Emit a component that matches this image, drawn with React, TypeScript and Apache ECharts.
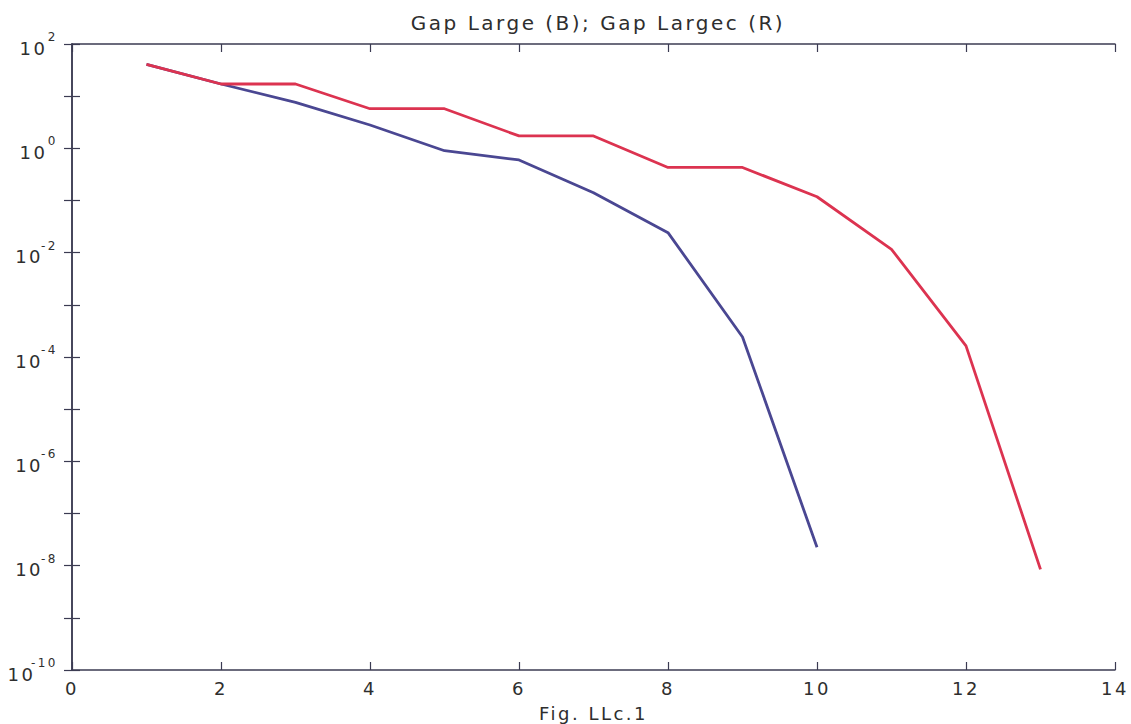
import React, { useEffect, useRef } from "react";
import * as echarts from "echarts";

// Gap index (x) and the two gap measures plotted on a log scale
const steps = [1, 2, 3, 4, 5, 6, 7, 8, 9, 10, 11, 12, 13];
const gapLarge = [40.8, 17.1, 7.6, 2.8, 0.9, 0.6, 0.141, 0.0242, 2.42e-4, 2.25e-8];
const gapLargec = [40.8, 17.1, 17.1, 5.75, 5.75, 1.73, 1.73, 0.43, 0.43, 0.118, 0.0116, 1.63e-4, 8.5e-9];

const xTicks = [0, 2, 4, 6, 8, 10, 12, 14];
const yMinExp = -10;
const yMaxExp = 2;

const axisColor = "#3b3b52";
const textColor = "#2e2e2e";
const font = "'DejaVu Sans', Verdana, sans-serif";

const pairs = (vals: number[]) => vals.map((v, i) => [steps[i], v]);

export default function App() {
  const ref = useRef<HTMLDivElement>(null);

  useEffect(() => {
    if (!ref.current) return;
    const chart = echarts.init(ref.current, null, { renderer: "svg" });

    const yLabel = (value: number) => {
      const e = Math.round(Math.log10(value));
      if (e % 2 !== 0) return "";
      return `{b|10}{e|${e}}`;
    };

    const xBase = {
      type: "value",
      min: xTicks[0],
      max: xTicks[xTicks.length - 1],
      interval: 2,
      splitLine: { show: false },
      axisLine: { show: true, onZero: false, lineStyle: { color: axisColor, width: 1.5 } },
      axisTick: { show: true, inside: true, length: 8, lineStyle: { color: axisColor, width: 1.2 } },
    };

    const yBase = {
      type: "log",
      logBase: 10,
      min: Math.pow(10, yMinExp),
      max: Math.pow(10, yMaxExp),
      interval: 1,
      splitLine: { show: false },
      axisLine: { show: true, lineStyle: { color: axisColor, width: 1.5 } },
      axisTick: { show: true, inside: true, length: 8, lineStyle: { color: axisColor, width: 1.2 } },
    };

    chart.setOption({
      animation: false,
      backgroundColor: "#ffffff",
      title: {
        text: "Gap Large (B); Gap Largec (R)",
        left: 593,
        textAlign: "center",
        top: 8,
        textStyle: { fontFamily: font, fontSize: 20, fontWeight: "normal", color: textColor },
      },
      grid: { left: 72, right: 16, top: 44, bottom: 54, outerBoundsMode: "none", containLabel: false },
      xAxis: [
        {
          ...xBase,
          position: "bottom",
          name: "Fig. LLc.1",
          nameLocation: "middle",
          nameGap: 34,
          nameTextStyle: { fontFamily: font, fontSize: 18, color: textColor },
          axisLabel: { margin: 9, fontFamily: font, fontSize: 18, color: textColor },
        },
        { ...xBase, position: "top", axisLabel: { show: false } },
      ],
      yAxis: [
        {
          ...yBase,
          position: "left",
          axisLabel: {
            margin: 14,
            formatter: yLabel,
            rich: {
              b: { fontFamily: font, fontSize: 18, color: textColor, lineHeight: 26, verticalAlign: "bottom" },
              e: { fontFamily: font, fontSize: 12, color: textColor, lineHeight: 16, verticalAlign: "top", padding: [0, 0, 0, 3] },
            },
          },
        },
        { ...yBase, position: "right", axisLabel: { show: false } },
      ],
      series: [
        {
          name: "Gap Large",
          type: "line",
          data: pairs(gapLarge),
          symbol: "none",
          lineStyle: { color: "#4a4792", width: 2.8 },
          z: 2,
        },
        {
          name: "Gap Largec",
          type: "line",
          data: pairs(gapLargec),
          symbol: "none",
          lineStyle: { color: "#dc3350", width: 2.8 },
          z: 3,
        },
      ],
    });

    return () => chart.dispose();
  }, []);

  return (
    <div
      ref={ref}
      style={{ position: "absolute", left: 0, top: 0, width: 1131, height: 724, letterSpacing: "2.5px" }}
    />
  );
}
